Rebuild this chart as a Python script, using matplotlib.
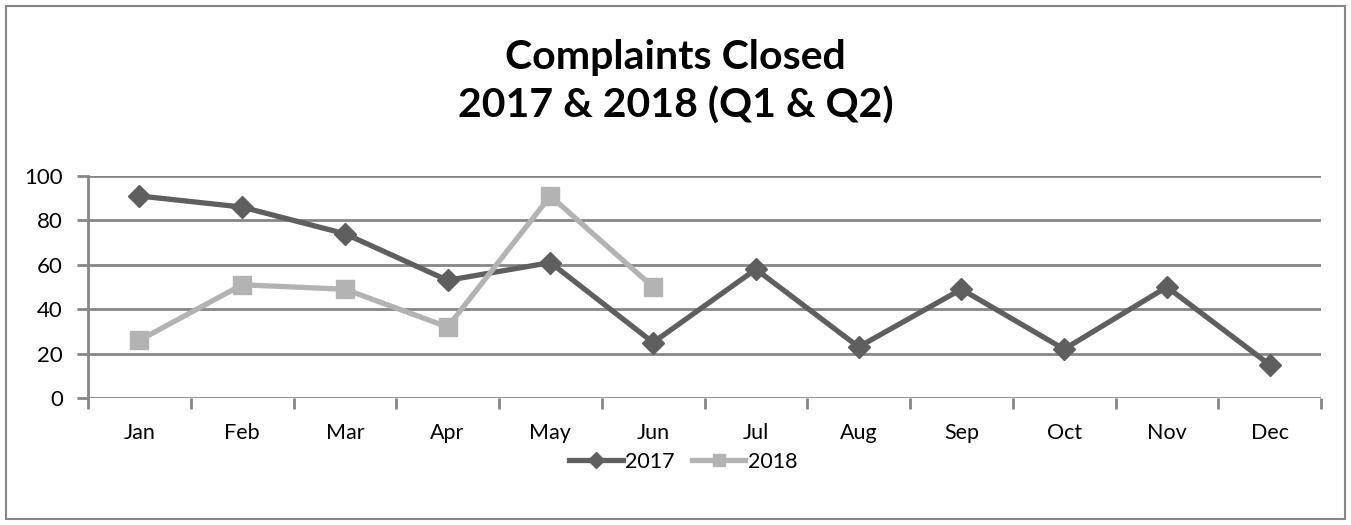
import matplotlib.pyplot as plt
from matplotlib.patches import Rectangle

# data
months = ['Jan', 'Feb', 'Mar', 'Apr', 'May', 'Jun', 'Jul', 'Aug', 'Sep', 'Oct', 'Nov', 'Dec']
closed_2017 = [91, 86, 74, 53, 61, 25, 58, 23, 49, 22, 50, 15]
closed_2018 = [26, 51, 49, 32, 91, 50]
y_ticks = [0, 20, 40, 60, 80, 100]

plt.rcParams['font.family'] = ['Lato', 'DejaVu Sans']
grid_col = '#868686'

fig = plt.figure(figsize=(13.51, 5.25), dpi=100)
ax = fig.add_axes([88 / 1351, 127 / 525, (1321 - 88) / 1351, 222 / 525])

x17 = list(range(len(closed_2017)))
x18 = list(range(len(closed_2018)))
ax.plot(x17, closed_2017, color='#5f5f5f', lw=3.8, marker='D', markersize=11,
        label='2017', zorder=3)
ax.plot(x18, closed_2018, color='#b3b3b3', lw=3.8, marker='s', markersize=13,
        label='2018', zorder=4)

ax.set_xlim(-0.5, 11.5)
ax.set_ylim(0, 100)
ax.set_yticks(y_ticks)
ax.set_yticklabels([str(v) for v in y_ticks], fontsize=16)
for v in y_ticks:
    ax.axhline(v, color=grid_col, lw=2, zorder=1)

# month labels in the centre, ticks on the boundaries
ax.set_xticks(x17)
ax.set_xticklabels(months, fontsize=15.5)
ax.tick_params(axis='x', length=0, pad=18)
ax.set_xticks([i - 0.5 for i in range(len(months) + 1)], minor=True)
ax.tick_params(axis='x', which='minor', length=8, width=2, color=grid_col)
ax.tick_params(axis='y', length=8, width=2, color=grid_col, pad=10)

for s in ['top', 'right', 'bottom']:
    ax.spines[s].set_visible(False)
ax.spines['left'].set_color(grid_col)
ax.spines['left'].set_linewidth(2)

fig.text(0.5, 1 - 58 / 525, 'Complaints Closed', ha='center', va='center',
         fontsize=29.5, fontweight='bold')
fig.text(0.5, 1 - 106 / 525, '2017 & 2018 (Q1 & Q2)', ha='center', va='center',
         fontsize=29.5, fontweight='bold')

fig.legend(loc='center', bbox_to_anchor=(683 / 1351, 1 - 462 / 525), ncol=2,
           frameon=False, fontsize=15.5, handlelength=2.5, columnspacing=0.8,
           handletextpad=0.1, markerscale=0.7)

fig.patches.append(Rectangle((6 / 1351, 6 / 525), 1339 / 1351, 513 / 525,
                             transform=fig.transFigure, fill=False,
                             edgecolor=grid_col, lw=1.5))

fig.savefig('out.png', dpi=100)
